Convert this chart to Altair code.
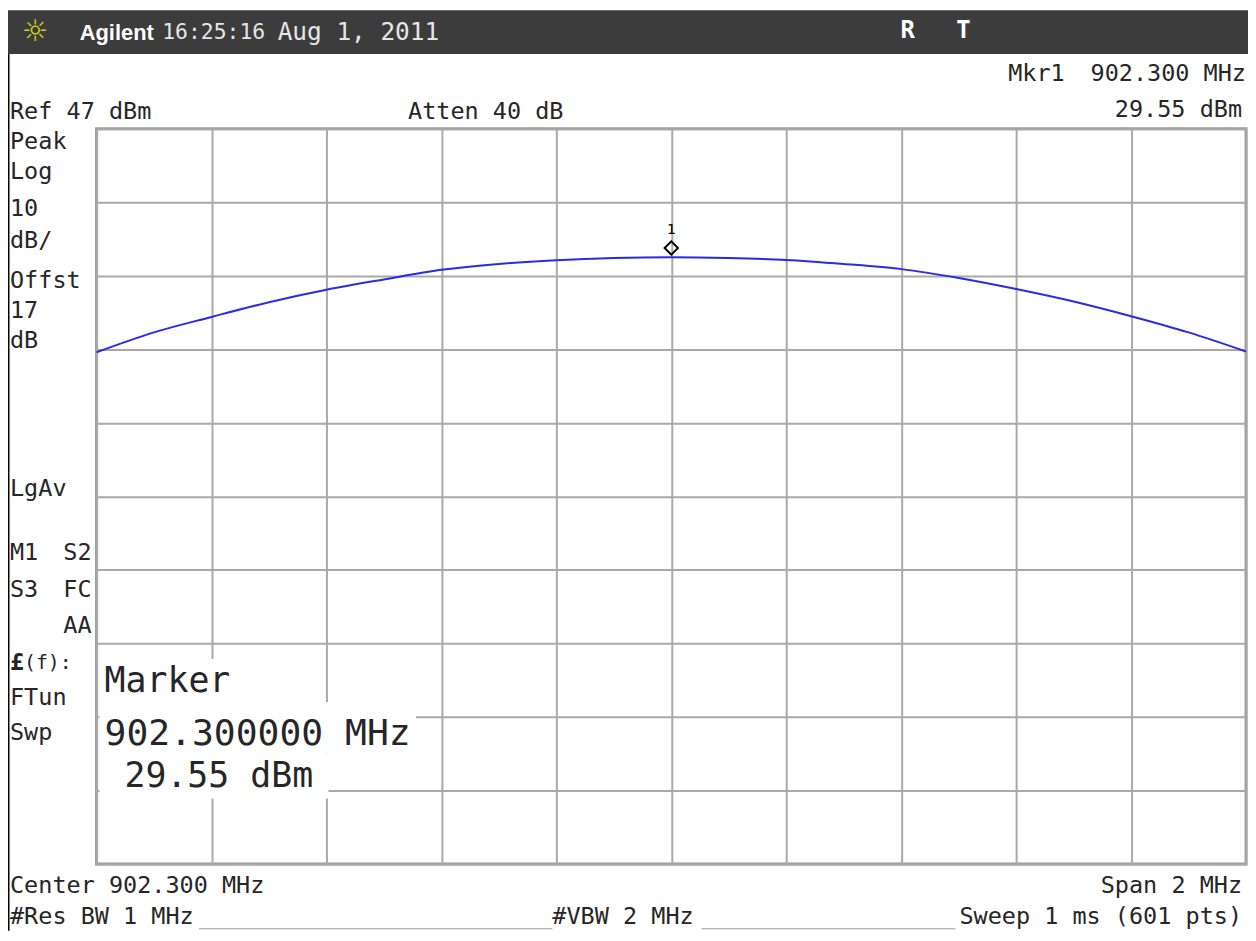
import altair as alt
import pandas as pd

freq_mhz = [901.3, 901.4, 901.5, 901.6, 901.7, 901.8, 901.9, 902.0, 902.1, 902.2, 902.3,
            902.4, 902.5, 902.6, 902.7, 902.8, 902.9, 903.0, 903.1, 903.2, 903.3]
power_dbm = [16.6, 19.3, 21.4, 23.4, 25.1, 26.5, 27.8, 28.6, 29.1, 29.4, 29.5,
             29.4, 29.15, 28.6, 27.9, 26.7, 25.2, 23.5, 21.5, 19.3, 16.7]
marker_freq = [902.3]
marker_power = [29.55]
x_grid = [901.3, 901.5, 901.7, 901.9, 902.1, 902.3, 902.5, 902.7, 902.9, 903.1, 903.3]
y_grid = [-53, -43, -33, -23, -13, -3, 7, 17, 27, 37, 47]

PX0, PY0 = 97, 127          # page position of the graticule's top-left corner
MONO = "DejaVu Sans Mono"
INK = "#262626"
GRID = "#a9a9a9"

one = pd.DataFrame({"k": [0]})


def txt(s, px, py, size=23.6, align="left", color=INK, font=MONO, weight="normal"):
    return alt.Chart(one).mark_text(
        text=s, align=align, baseline="middle", fontSize=size, font=font,
        fontWeight=weight, color=color
    ).encode(x=alt.value(px - PX0), y=alt.value(py - PY0))


def box(x1, y1, x2, y2, color):
    return alt.Chart(one).mark_rect(color=color).encode(
        x=alt.value(x1 - PX0), x2=alt.value(x2 - PX0),
        y=alt.value(y1 - PY0), y2=alt.value(y2 - PY0))


def rule(x1, y1, x2, y2, color, w):
    return alt.Chart(one).mark_rule(color=color, strokeWidth=w).encode(
        x=alt.value(x1 - PX0), x2=alt.value(x2 - PX0),
        y=alt.value(y1 - PY0), y2=alt.value(y2 - PY0))


trace_df = pd.DataFrame({"f": freq_mhz, "p": power_dbm})
marker_df = pd.DataFrame({"f": marker_freq, "p": marker_power})

xs = alt.Scale(domain=[901.3, 903.3], nice=False, zero=False)
ys = alt.Scale(domain=[-53, 47], nice=False, zero=False)
grid_axis = dict(grid=True, gridColor=GRID, gridWidth=2, labels=False, ticks=False,
                 domain=False, title=None)

trace = alt.Chart(trace_df).mark_line(
    color="#2b2be4", strokeWidth=2, interpolate="monotone"
).encode(
    x=alt.X("f:Q", scale=xs, axis=alt.Axis(values=x_grid, **grid_axis)),
    y=alt.Y("p:Q", scale=ys, axis=alt.Axis(values=y_grid, **grid_axis)),
)

marker = alt.Chart(marker_df).mark_point(
    shape="diamond", size=180, filled=False, stroke="black", strokeWidth=2,
    opacity=1, yOffset=-9
).encode(x=alt.X("f:Q", scale=xs), y=alt.Y("p:Q", scale=ys))

marker_lbl = alt.Chart(marker_df).mark_text(
    text="1", fontSize=15, font=MONO, color="black", dy=-28
).encode(x=alt.X("f:Q", scale=xs), y=alt.Y("p:Q", scale=ys))

layers = [
    # title bar
    box(8, 8, 1254, 52, "#3c3c3c"),
    txt("☼", 35, 30, size=30, align="center", color="#cfcf1f", font="DejaVu Sans"),
    txt("Agilent", 80, 31, size=22, color="white", font="Liberation Sans", weight="bold"),
    txt("16:25:16", 163, 31, size=21.5, color="#e6e6e6"),
    txt("Aug 1, 2011", 279, 31, size=24.5, color="#e6e6e6"),
    txt("R", 912, 29, size=24, align="center", color="white", weight="bold"),
    txt("T", 968, 29, size=24, align="center", color="white", weight="bold"),
    # left black edge
    rule(8.5, 52, 8.5, 933, "black", 2),
    # marker readout background (hides the graticule)
    box(100, 660, 235, 703, "white"),
    box(100, 703, 418, 755, "white"),
    box(100, 755, 330, 800, "white"),
    trace, marker, marker_lbl,
    # header annotations
    txt("Mkr1", 1013, 72),
    txt("902.300 MHz", 1252, 72, align="right"),
    txt("Ref 47 dBm", 10, 110),
    txt("Atten 40 dB", 410, 110),
    txt("29.55 dBm", 1248, 108, align="right"),
    # left panel
    txt("Peak", 10, 140),
    txt("Log", 10, 171),
    txt("10", 10, 208),
    txt("dB/", 10, 240),
    txt("Offst", 10, 280),
    txt("17", 10, 310),
    txt("dB", 10, 340),
    txt("LgAv", 10, 489),
    txt("M1", 10, 553),
    txt("S2", 92, 553, align="right"),
    txt("S3", 10, 591),
    txt("FC", 92, 591, align="right"),
    txt("AA", 92, 627, align="right"),
    txt("£", 10, 664, weight="bold"),
    txt("(f):", 24, 664, size=20),
    txt("FTun", 10, 699),
    txt("Swp", 10, 734),
    # marker readout
    txt("Marker", 105, 682, size=35),
    txt("902.300000 MHz", 105, 735, size=36.5),
    txt("29.55 dBm", 125, 778, size=35),
    # footer
    txt("Center 902.300 MHz", 10, 888),
    txt("Span 2 MHz", 1248, 888, align="right"),
    txt("#Res BW 1 MHz", 10, 919),
    txt("#VBW 2 MHz", 555, 919),
    txt("Sweep 1 ms (601 pts)", 1248, 919, align="right"),
    rule(200, 931, 555, 931, "#999999", 1),
    rule(705, 931, 960, 931, "#999999", 1),
]

chart = alt.layer(*layers).properties(
    width=1155, height=739,
    autosize=alt.AutoSizeParams(type="none"),
    padding={"left": 89, "top": 119, "right": 2, "bottom": 67},
    background="white",
).configure_view(stroke="#999999", strokeWidth=3)

chart.save("out.html", embed_options={"renderer": "svg", "actions": False})
